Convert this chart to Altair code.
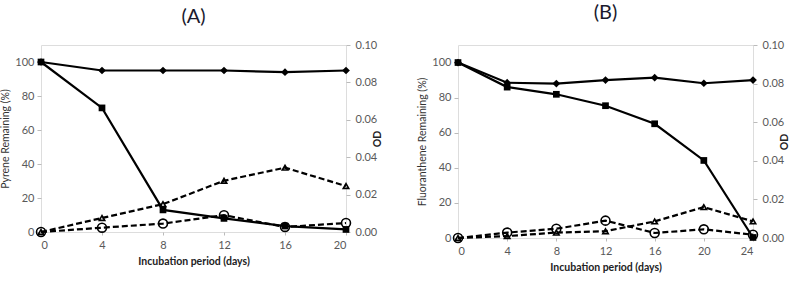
import altair as alt
import pandas as pd

# Panel A (Pyrene)
days_a = [0, 4, 8, 12, 16, 20]
ctrl_a = [100, 95, 95, 95, 94, 95]
degr_a = [100, 73, 13, 8, 3.5, 1.5]
od_tri_a = [0.0, 0.0075, 0.0149, 0.0274, 0.0344, 0.0246]
od_cir_a = [0.0, 0.0023, 0.0045, 0.0090, 0.0027, 0.0048]

# Panel B (Fluoranthene)
days_b = [0, 4, 8, 12, 16, 20, 24]
ctrl_b = [100, 88.5, 88, 90, 91.4, 88.2, 90]
degr_b = [100, 86, 81.9, 75.4, 65.1, 44.2, 0.3]
od_tri_b = [0.0, 0.0010, 0.0028, 0.0035, 0.0086, 0.0160, 0.0086]
od_cir_b = [0.0, 0.0028, 0.0048, 0.0090, 0.0026, 0.0045, 0.0017]

FONT = "Lato"
LAB = "#595959"


def panel(days, ctrl, degr, tri, cir, title, ytitle, xmax, w, h, toff):
    left = pd.DataFrame({
        "day": days * 2,
        "value": ctrl + degr,
        "series": ["ctrl"] * len(days) + ["degr"] * len(days),
    })
    right = pd.DataFrame({
        "day": days * 2,
        "value": tri + cir,
        "series": ["tri"] * len(days) + ["cir"] * len(days),
    })
    xenc = alt.X("day:Q", scale=alt.Scale(domain=[0, xmax], nice=False, zero=True),
                 axis=alt.Axis(values=list(range(0, xmax + 1, 4)), title="Incubation period (days)",
                               grid=False, domain=False, tickSize=3, tickColor="#bbbbbb",
                               labelColor=LAB, labelFont=FONT, labelFontSize=11, labelPadding=4,
                               titleFont=FONT, titleFontSize=10.5, titleFontWeight="bold",
                               titleColor="#222222", titlePadding=6))
    yl = alt.Y("value:Q", scale=alt.Scale(domain=[0, 110], nice=False),
               axis=alt.Axis(values=[0, 20, 40, 60, 80, 100], title=ytitle, grid=False, domain=False,
                             tickSize=4, tickColor="#bbbbbb", labelColor=LAB, labelFont=FONT,
                             labelFontSize=11, labelPadding=3, titleFont=FONT, titleFontSize=10.5,
                             titleFontWeight="normal", titleColor="#333333", titlePadding=4))
    yr = alt.Y("value:Q", scale=alt.Scale(domain=[0, 0.1], nice=False),
               axis=alt.Axis(orient="right", values=[0, 0.02, 0.04, 0.06, 0.08, 0.1], format=".2f",
                             title="OD", grid=False, domain=False, tickSize=4, tickColor="#bbbbbb",
                             labelColor=LAB, labelFont=FONT, labelFontSize=11, labelPadding=5,
                             titleFont=FONT, titleFontSize=10.5, titleFontWeight="bold",
                             titleColor="#222222", titlePadding=6, titleAngle=270))
    lbase = alt.Chart(left)
    l_line = lbase.mark_line(color="black", strokeWidth=2.2).encode(x=xenc, y=yl, detail="series:N")
    l_pt = lbase.mark_point(filled=True, color="black", opacity=1).encode(
        x=xenc, y=yl,
        shape=alt.Shape("series:N", scale=alt.Scale(domain=["ctrl", "degr"], range=["diamond", "square"]),
                        legend=None),
        size=alt.Size("series:N", scale=alt.Scale(domain=["ctrl", "degr"], range=[60, 45]), legend=None),
    )
    rbase = alt.Chart(right)
    r_line = rbase.mark_line(color="black", strokeWidth=2.2, strokeDash=[6, 3]).encode(
        x=xenc, y=yr, detail="series:N")
    r_pt = rbase.mark_point(filled=False, color="black", opacity=1, strokeWidth=1.6).encode(
        x=xenc, y=yr,
        shape=alt.Shape("series:N", scale=alt.Scale(domain=["tri", "cir"], range=["triangle-up", "circle"]),
                        legend=None),
        size=alt.Size("series:N", scale=alt.Scale(domain=["tri", "cir"], range=[30, 80]), legend=None),
    )
    lay = alt.layer(alt.layer(l_line, l_pt), alt.layer(r_line, r_pt)).resolve_scale(
        y="independent", shape="independent", size="independent"
    ).properties(
        width=w, height=h,
        title=alt.TitleParams(title, fontSize=20, font=FONT, fontWeight="normal", color="#1a1a2e",
                              anchor="middle", offset=toff),
    )
    return lay


A = panel(days_a, ctrl_a, degr_a, od_tri_a, od_cir_a, "(A)", "Pyrene Remaining (%)", 20, 305, 187, 12)
B = panel(days_b, ctrl_b, degr_b, od_tri_b, od_cir_b, "(B)", "Fluoranthene Remaining (%)", 24, 295, 193, 16)

chart = alt.hconcat(A, B, spacing=33).properties(
    padding={"left": 0, "top": 2, "right": 2, "bottom": 2}
).configure_view(stroke="black", strokeWidth=1.5).configure(background="white")

chart.save("out.html", embed_options={"renderer": "svg", "actions": False})
